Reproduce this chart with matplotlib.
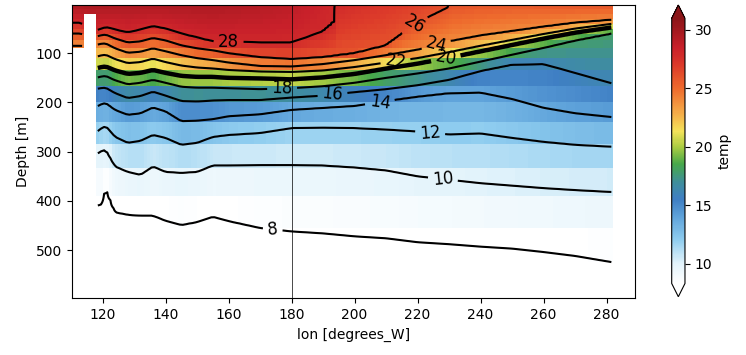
import matplotlib
matplotlib.use('Agg')
import matplotlib.pyplot as plt
import numpy as np
from matplotlib.colors import LinearSegmentedColormap

# longitudes (as labelled, degrees_W) at which the isotherm depths were read
lon_k = np.array([110, 113, 117, 119, 121, 124, 128, 132, 136, 140, 145, 150, 155,
                  160, 170, 180, 190, 200, 210, 220, 230, 240, 250, 260, 270, 282])
nan = np.nan
# surface temperature
sst = [29.7, 29.7, 29.7, 29.7, 29.7, 29.6, 29.6, 29.6, 29.6, 29.6, 29.6, 29.6, 29.6,
       29.5, 29.3, 29.0, 28.25, 27.6, 27.2, 26.8, 26.0, 25.8, 25.7, 25.8, 25.9, 25.9]
# depth [m] of each isotherm
d28 = [38, 38, 57, 52, 47, 52, 58, 52, 45, 50, 60, 68, 76, 77, 78, 78, 56,
       0, nan, nan, nan, nan, nan, nan, nan, nan]
d26 = [60, 60, 68, 64, 62, 70, 78, 76, 69, 74, 84, 90, 94, 100, 108, 112, 108,
       100, 84, 37, 6, nan, nan, nan, nan, nan]
d24 = [85, 85, 86, 81, 80, 90, 99, 97, 90, 96, 104, 110, 114, 119, 126, 127, 122,
       114, 104, 93, 76, 64, 55, 46, 38, 32]
d22 = [108, 108, 110, 105, 103, 112, 120, 118, 111, 118, 125, 129, 131, 134, 137, 138, 135,
       128, 119, 110, 98, 85, 73, 61, 50, 40]
d20 = [132, 132, 133, 129, 127, 135, 142, 140, 134, 140, 146, 148, 148, 150, 151, 153, 149,
       142, 131, 121, 109, 96, 83, 70, 58, 47]
d18 = [152, 152, 152, 148, 146, 155, 163, 160, 154, 160, 168, 170, 170, 171, 173, 171, 167,
       160, 150, 141, 131, 117, 103, 89, 74, 59]
d16 = [175, 175, 175, 171, 170, 181, 191, 187, 178, 186, 197, 198, 196, 195, 195, 190, 186,
       179, 173, 165, 154, 136, 123, 122, 140, 162]
d14 = [213, 213, 213, 205, 201, 215, 225, 222, 210, 218, 238, 237, 234, 228, 224, 215, 211,
       207, 197, 188, 181, 180, 193, 211, 222, 230]
d12 = [268, 268, 268, 255, 248, 270, 282, 278, 266, 272, 286, 282, 270, 266, 262, 252, 251,
       252, 255, 259, 265, 263, 272, 280, 286, 290]
d10 = [311, 311, 311, 300, 296, 330, 341, 347, 330, 341, 343, 341, 328, 328, 327, 327, 328,
       332, 338, 350, 357, 364, 369, 374, 378, 382]
d08 = [382, 382, 382, 418, 374, 423, 428, 430, 430, 440, 449, 443, 432, 441, 455, 462, 466,
       472, 476, 484, 488, 493, 497, 504, 512, 525]
iso_temps = [28, 26, 24, 22, 20, 18, 16, 14, 12, 10, 8]
iso_depths = [d28, d26, d24, d22, d20, d18, d16, d14, d12, d10, d08]
bottom_temp = 6.5

# where the section has no data (land): lon range and deepest valid depth
land_lon0 = [110, 114]
land_lon1 = [114, 118]
land_maxdepth = [89, 20]

# grid of the gridded product
lon_edges = np.arange(110, 283)
depth_edges = np.array([0, 10, 20, 30, 40, 50, 60, 73, 89, 110, 134, 166, 199,
                        240, 285, 333, 390, 455, 525, 598])


def profile(lon, depth):
    s = np.interp(lon, lon_k, sst)
    temps, deps = [s], [0.0]
    for t, d in zip(iso_temps, iso_depths):
        d = np.asarray(d, float)
        ok = ~np.isnan(d)
        if t < s:
            temps.append(t)
            deps.append(np.interp(lon, lon_k[ok], d[ok]))
    temps.append(bottom_temp)
    deps.append(600.0)
    deps = np.maximum.accumulate(np.array(deps) + np.arange(len(deps)) * 1e-3)
    return np.interp(depth, deps, temps)


def field(lons, depths):
    T = np.array([profile(lo, depths) for lo in lons]).T
    L, D = np.meshgrid(lons, depths)
    mask = np.zeros_like(T, bool)
    for a, b, m in zip(land_lon0, land_lon1, land_maxdepth):
        mask |= (L >= a) & (L < b) & (D > m)
    return np.ma.masked_array(T, mask)


lon_c = 0.5 * (lon_edges[1:] + lon_edges[:-1])
dep_c = 0.5 * (depth_edges[1:] + depth_edges[:-1])
temp = field(lon_c, dep_c)
dep_fine = np.arange(0, 599, 2.0)
temp_fine = field(lon_c, dep_fine)

cmap = LinearSegmentedColormap.from_list('ocean_temp', [
    (0.000, '#ffffff'), (0.075, '#e2f3fb'), (0.163, '#8fcdef'),
    (0.251, '#5ea2da'), (0.317, '#3f7fc4'), (0.383, '#3f8f9a'),
    (0.449, '#47a84a'), (0.515, '#a9cc42'), (0.573, '#f4e35a'),
    (0.648, '#f5a847'), (0.736, '#ee6b2d'), (0.824, '#dc3a2a'),
    (0.890, '#c8202a'), (1.000, '#8b1518')])
cmap.set_under('white')
cmap.set_over('#8b1518')

fig = plt.figure(figsize=(7.46, 3.55), dpi=100)
ax = fig.add_axes([0.0961, 0.1597, 0.7551, 0.8262])
cax = fig.add_axes([0.9004, 0.1642, 0.0178, 0.8217])

pm = ax.pcolormesh(lon_edges, depth_edges, temp, cmap=cmap, vmin=8.3, vmax=31.0)

label_pos = {8: (174, 459), 10: (228, 358), 12: (224, 260), 14: (208, 199),
             16: (193, 185), 18: (177, 172), 20: (229, 112), 22: (213, 118),
             24: (226, 86), 26: (219, 42), 28: (160, 77)}
for lv in iso_temps:
    cs = ax.contour(lon_c, dep_fine, temp_fine, levels=[lv], colors='k',
                    linewidths=3.2 if lv == 20 else 1.5)
    ax.clabel(cs, manual=[label_pos[lv]], inline=True, fontsize=12, fmt='%d')

ax.axvline(180, color='k', lw=0.5)
ax.set_xlim(110.2, 289)
ax.set_ylim(598, 2)
ax.set_xticks(np.arange(120, 281, 20))
ax.set_yticks([100, 200, 300, 400, 500])
ax.set_xlabel('lon [degrees_W]')
ax.set_ylabel('Depth [m]')

cb = fig.colorbar(pm, cax=cax, extend='both')
cb.set_ticks([10, 15, 20, 25, 30])
cb.set_label('temp')

fig.savefig('out.png', dpi=100)
